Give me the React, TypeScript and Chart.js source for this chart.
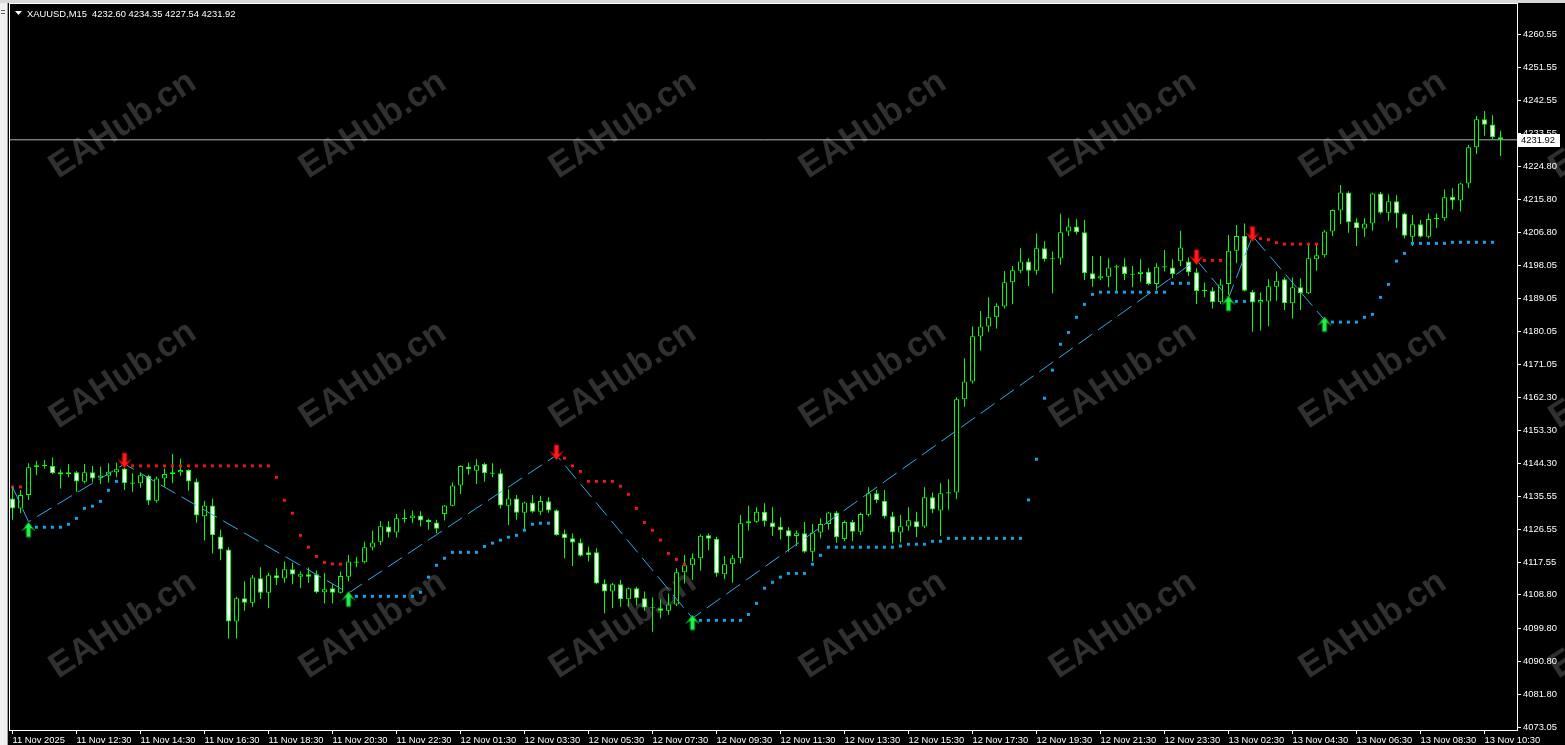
import React, { useEffect, useRef } from 'react';
import { Chart, registerables } from 'chart.js';

Chart.register(...registerables);

// ---------- data (XAUUSD M15) ----------
const symbolTitle = 'XAUUSD,M15';

const opens = [
  4134.9, 4132.2, 4135.8, 4143.4, 4143.8, 4143.7, 4142.0, 4141.5, 4142.0, 4139.4,
  4142.0, 4140.5, 4141.0, 4142.0, 4143.0, 4139.0, 4139.0, 4141.0, 4134.3, 4140.3,
  4141.5, 4142.0, 4142.6, 4139.5, 4130.1, 4133.0, 4124.6, 4121.1, 4101.6, 4107.9,
  4106.7, 4113.3, 4109.4, 4114.1, 4113.2, 4115.7, 4113.7, 4114.4, 4114.4, 4109.5,
  4110.6, 4109.4, 4113.7, 4117.6, 4117.6, 4121.6, 4123.2, 4127.3, 4125.7, 4129.4,
  4129.5, 4130.3, 4129.1, 4128.4, 4130.7, 4132.9, 4138.4, 4143.5, 4142.4, 4144.2,
  4141.8, 4141.7, 4132.9, 4134.9, 4131.0, 4133.8, 4131.3, 4134.1, 4131.7, 4125.4,
  4124.1, 4123.0, 4120.3, 4120.3, 4111.9, 4109.7, 4111.7, 4107.6, 4110.6, 4107.9,
  4105.4, 4105.2, 4104.5, 4106.2, 4114.9, 4116.8, 4118.7, 4124.9, 4124.0, 4114.4,
  4117.1, 4118.7, 4128.2, 4128.6, 4131.3, 4128.4, 4127.3, 4126.3, 4124.7, 4125.5,
  4120.5, 4125.7, 4128.0, 4131.1, 4123.9, 4128.5, 4125.9, 4130.5, 4136.3, 4134.3,
  4130.1, 4125.7, 4127.3, 4128.7, 4127.3, 4135.2, 4131.6, 4136.3, 4136.5, 4161.7,
  4166.5, 4178.7, 4181.4, 4183.9, 4186.8, 4193.4, 4196.5, 4199.0, 4196.5, 4202.6,
  4199.7, 4199.8, 4207.1, 4208.5, 4206.9, 4195.8, 4194.4, 4194.9, 4197.5, 4197.7,
  4195.6, 4195.6, 4196.2, 4192.9, 4197.4, 4197.4, 4199.1, 4199.0, 4196.1, 4191.2,
  4191.1, 4188.0, 4192.9, 4201.9, 4206.0, 4190.8, 4187.9, 4188.2, 4192.2, 4194.2,
  4187.7, 4192.0, 4190.4, 4199.6, 4200.7, 4207.1, 4212.8, 4217.7, 4209.6, 4207.9,
  4209.3, 4217.4, 4212.2, 4215.3, 4212.0, 4205.7, 4209.1, 4205.7, 4210.5, 4210.7,
  4216.5, 4215.5, 4220.1, 4229.9, 4237.5, 4236.1, 4232.60,
];

const highs = [
  4138.1, 4137.2, 4144.4, 4145.1, 4145.3, 4146.0, 4142.8, 4144.2, 4142.3, 4144.2,
  4143.7, 4143.5, 4144.4, 4144.6, 4144.6, 4141.7, 4141.9, 4141.3, 4140.8, 4143.0,
  4146.9, 4145.7, 4142.8, 4140.3, 4134.3, 4134.9, 4126.4, 4121.7, 4108.3, 4112.5,
  4114.2, 4116.3, 4114.8, 4116.0, 4117.8, 4117.5, 4115.1, 4116.2, 4115.4, 4114.8,
  4111.7, 4115.1, 4119.6, 4119.1, 4123.2, 4126.2, 4128.8, 4128.8, 4130.7, 4131.9,
  4131.6, 4131.4, 4129.4, 4129.1, 4133.1, 4139.2, 4143.9, 4144.6, 4145.5, 4144.6,
  4144.4, 4142.8, 4137.4, 4135.8, 4134.0, 4135.8, 4135.6, 4135.2, 4132.0, 4126.4,
  4125.4, 4124.0, 4121.8, 4121.4, 4113.0, 4112.0, 4112.8, 4110.8, 4111.0, 4109.7,
  4108.1, 4107.6, 4109.2, 4116.0, 4119.6, 4120.0, 4125.2, 4125.4, 4124.5, 4119.3,
  4119.6, 4130.4, 4132.9, 4132.5, 4133.6, 4132.5, 4129.8, 4127.1, 4126.2, 4128.5,
  4128.0, 4129.5, 4131.3, 4131.5, 4128.9, 4129.1, 4131.1, 4137.9, 4137.2, 4137.2,
  4131.3, 4130.4, 4132.5, 4131.3, 4137.9, 4136.5, 4139.0, 4140.1, 4162.3, 4172.8,
  4181.4, 4185.6, 4189.3, 4187.7, 4196.4, 4197.8, 4202.6, 4199.9, 4206.6, 4204.5,
  4201.7, 4211.9, 4210.7, 4210.4, 4210.2, 4200.5, 4200.5, 4199.9, 4198.1, 4199.9,
  4197.8, 4199.6, 4197.2, 4198.5, 4202.1, 4199.6, 4207.3, 4200.1, 4197.2, 4193.3,
  4192.0, 4194.2, 4206.2, 4208.9, 4209.3, 4191.3, 4190.6, 4194.2, 4196.3, 4194.7,
  4194.7, 4194.5, 4204.1, 4203.7, 4207.5, 4213.1, 4219.7, 4218.0, 4210.7, 4210.7,
  4217.6, 4217.8, 4217.2, 4216.9, 4212.2, 4211.6, 4210.2, 4212.0, 4212.0, 4218.5,
  4218.8, 4220.3, 4230.5, 4238.4, 4239.7, 4238.6, 4234.35,
];

const lows = [
  4129.1, 4130.9, 4134.5, 4141.2, 4143.0, 4141.5, 4137.6, 4140.6, 4136.7, 4139.0,
  4139.2, 4138.8, 4139.2, 4140.6, 4137.2, 4136.7, 4137.8, 4133.1, 4133.7, 4138.1,
  4139.0, 4141.0, 4137.0, 4128.3, 4123.5, 4120.0, 4118.2, 4097.0, 4097.0, 4104.5,
  4105.6, 4107.6, 4105.2, 4111.5, 4112.1, 4111.7, 4110.6, 4112.1, 4109.2, 4106.5,
  4106.5, 4109.2, 4112.4, 4116.3, 4117.3, 4120.9, 4122.3, 4124.3, 4124.3, 4128.3,
  4128.2, 4127.3, 4126.4, 4125.5, 4128.9, 4132.8, 4136.1, 4141.3, 4138.8, 4139.4,
  4140.6, 4132.2, 4127.7, 4129.1, 4126.4, 4131.0, 4130.4, 4131.0, 4124.8, 4118.7,
  4116.6, 4119.1, 4117.8, 4111.7, 4103.8, 4105.2, 4105.6, 4105.6, 4105.9, 4104.5,
  4098.8, 4102.5, 4103.4, 4105.8, 4111.9, 4112.8, 4115.4, 4120.9, 4113.7, 4113.0,
  4112.1, 4117.3, 4126.2, 4128.3, 4127.3, 4124.7, 4123.8, 4120.5, 4122.0, 4120.2,
  4117.8, 4124.1, 4126.4, 4122.9, 4123.4, 4123.4, 4125.0, 4130.0, 4133.6, 4129.5,
  4122.7, 4123.0, 4126.2, 4124.4, 4126.8, 4130.9, 4124.7, 4131.8, 4134.7, 4159.7,
  4166.0, 4174.9, 4180.0, 4180.9, 4186.3, 4187.4, 4195.8, 4192.4, 4195.4, 4199.0,
  4190.4, 4198.1, 4205.9, 4206.4, 4194.0, 4192.2, 4194.0, 4192.0, 4190.8, 4194.0,
  4192.0, 4193.5, 4192.6, 4191.3, 4196.3, 4194.5, 4197.8, 4195.1, 4187.5, 4189.3,
  4186.3, 4187.5, 4189.9, 4198.5, 4190.9, 4180.0, 4180.3, 4181.5, 4188.4, 4185.9,
  4183.6, 4185.9, 4190.2, 4196.5, 4200.1, 4205.9, 4209.1, 4206.8, 4203.2, 4205.7,
  4207.3, 4211.8, 4210.0, 4208.0, 4205.3, 4203.2, 4205.5, 4205.3, 4208.0, 4210.0,
  4213.1, 4212.5, 4218.8, 4228.1, 4233.0, 4232.1, 4227.54,
];

const closes = [
  4132.2, 4135.8, 4143.3, 4143.9, 4143.9, 4141.7, 4141.4, 4142.0, 4139.5, 4142.0,
  4140.3, 4141.1, 4142.1, 4142.8, 4139.0, 4139.1, 4141.2, 4134.3, 4140.3, 4141.5,
  4142.0, 4142.6, 4139.5, 4130.3, 4133.0, 4124.9, 4121.1, 4101.6, 4107.9, 4106.7,
  4113.5, 4109.4, 4114.1, 4113.3, 4115.7, 4114.3, 4114.4, 4113.7, 4109.5, 4110.3,
  4109.4, 4113.9, 4117.8, 4117.7, 4121.7, 4123.0, 4127.4, 4125.7, 4129.5, 4129.6,
  4130.3, 4128.9, 4128.5, 4126.7, 4133.0, 4138.4, 4143.7, 4142.8, 4143.9, 4141.7,
  4141.7, 4133.0, 4134.9, 4131.0, 4133.8, 4131.3, 4134.2, 4131.6, 4125.0, 4124.1,
  4123.0, 4119.4, 4119.6, 4111.9, 4109.7, 4111.7, 4107.6, 4110.6, 4107.9, 4105.4,
  4105.2, 4104.5, 4106.2, 4114.9, 4116.8, 4118.7, 4124.8, 4124.0, 4114.6, 4117.1,
  4118.7, 4128.2, 4128.7, 4131.3, 4128.7, 4127.1, 4126.3, 4124.6, 4125.5, 4120.5,
  4125.7, 4128.0, 4131.1, 4124.4, 4128.5, 4125.9, 4130.7, 4136.3, 4134.5, 4130.0,
  4125.7, 4127.4, 4129.0, 4127.1, 4135.2, 4131.9, 4136.3, 4136.5, 4161.7, 4166.5,
  4178.8, 4181.4, 4183.9, 4187.0, 4193.4, 4196.6, 4199.0, 4196.5, 4202.6, 4199.6,
  4199.8, 4206.9, 4208.5, 4206.9, 4195.8, 4194.2, 4195.0, 4197.4, 4197.6, 4195.6,
  4195.5, 4196.2, 4192.9, 4197.6, 4197.7, 4195.6, 4202.8, 4196.1, 4191.0, 4191.1,
  4188.0, 4192.8, 4201.9, 4205.9, 4191.1, 4187.9, 4188.6, 4192.3, 4193.8, 4187.7,
  4192.0, 4190.4, 4199.9, 4200.7, 4207.1, 4212.9, 4217.7, 4209.6, 4208.0, 4209.3,
  4217.4, 4212.2, 4215.3, 4212.0, 4206.0, 4209.1, 4205.7, 4210.5, 4210.7, 4216.4,
  4215.5, 4220.1, 4229.9, 4237.5, 4236.0, 4232.6, 4231.92,
];

// red resistance dots (one per bar, null = none)
const resistanceDots = [
  4138.0, 4138.0, null, null, null, null, null, null, null, null,
  null, null, null, null, null, 4143.7, 4143.7, 4143.7, 4143.7, 4143.7,
  4143.7, 4143.7, 4143.7, 4143.7, 4143.7, 4143.7, 4143.7, 4143.7, 4143.7, 4143.7,
  4143.7, 4143.7, 4143.7, 4140.6, 4134.4, 4130.9, 4124.9, 4121.7, 4119.2, 4117.6,
  4117.2, 4117.1, null, null, null, null, null, null, null, null,
  null, null, null, null, null, null, null, null, null, null,
  null, null, null, null, null, null, null, null, null, 4145.8,
  4143.7, 4142.2, 4139.5, 4139.5, 4139.5, 4139.5, 4138.2, 4136.0, 4132.2, 4128.4,
  4126.3, 4123.6, 4120.0, 4118.4, 4117.1, null, null, null, null, null,
  null, null, null, null, null, null, null, null, null, null,
  null, null, null, null, null, null, null, null, null, null,
  null, null, null, null, null, null, null, null, null, null,
  null, null, null, null, null, null, null, null, null, null,
  null, null, null, null, null, null, null, null, null, null,
  null, null, null, null, null, null, null, null, null, 4199.3,
  4199.3, 4199.3, null, null, null, null, 4205.2, 4204.9, 4204.1, 4203.7,
  4203.7, 4203.7, 4203.7, 4203.7, null, null, null, null, null, null,
  null, null, null, null, null, null, null, null, null, null,
  null, null, null, null, null, null, null,
];

// blue support dots (one per bar, null = none)
const supportDots = [
  null, null, null, 4127.1, 4127.1, 4127.1, 4127.1, 4127.9, 4129.5, 4132.2,
  4132.8, 4134.1, 4137.1, 4139.5, null, null, null, null, null, null,
  null, null, null, null, null, null, null, null, null, null,
  null, null, null, null, null, null, null, null, null, null,
  null, null, null, 4108.4, 4108.4, 4108.4, 4108.4, 4108.4, 4108.4, 4108.4,
  4108.4, 4109.5, 4113.6, 4116.8, 4118.7, 4120.3, 4120.3, 4120.3, 4120.3, 4121.9,
  4122.8, 4123.6, 4124.4, 4124.9, 4126.3, 4127.9, 4128.2, 4128.2, null, null,
  null, null, null, null, null, null, null, null, null, null,
  null, null, null, null, null, null, 4101.9, 4101.9, 4101.9, 4101.9,
  4101.9, 4101.9, 4103.5, 4106.5, 4110.6, 4112.2, 4113.6, 4114.6, 4114.6, 4114.6,
  4117.1, 4119.5, 4121.7, 4121.7, 4121.7, 4121.7, 4121.7, 4121.7, 4121.7, 4121.7,
  4121.7, 4122.0, 4122.5, 4122.5, 4122.5, 4123.3, 4123.3, 4124.1, 4124.1, 4124.1,
  4124.1, 4124.1, 4124.1, 4124.1, 4124.1, 4124.1, 4124.1, 4134.5, 4145.5, 4162.0,
  4169.6, 4176.6, 4179.8, 4183.9, 4187.4, 4190.1, 4190.7, 4190.7, 4190.7, 4190.7,
  4190.7, 4190.7, 4190.7, 4190.7, 4190.7, 4193.1, 4193.1, 4193.1, null, null,
  null, null, null, 4188.2, 4188.2, null, null, null, null, null,
  null, null, null, null, null, 4182.6, 4182.6, 4182.6, 4182.6, 4183.9,
  4184.7, 4189.3, 4192.8, 4199.1, 4201.2, 4203.9, 4203.9, 4203.9, 4203.9, 4203.9,
  4204.2, 4204.2, 4204.2, 4204.2, 4204.2, 4204.2, null,
];

// zigzag vertices (bar index, price)
const zigzagBars = [0, 2, 14, 42, 68, 85, 148, 152, 155, 164];
const zigzagPrices = [4138.0, 4128.6, 4144.2, 4109.3, 4146.6, 4102.5, 4199.4, 4189.1, 4205.9, 4183.2];

// signal arrows (tip price)
const buyArrowBars = [2, 42, 85, 152, 164];
const buyArrowPrices = [4128.5, 4109.7, 4103.4, 4189.7, 4184.1];
const sellArrowBars = [14, 68, 148, 155];
const sellArrowPrices = [4143.1, 4145.3, 4198.1, 4204.4];

// axis ticks
const xTickBars = [0, 8, 16, 24, 32, 40, 48, 56, 64, 72, 80, 88, 96, 104, 112, 120, 128, 136, 144, 152, 160, 168, 176, 184];
const xTickLabels = [
  '11 Nov 2025', '11 Nov 12:30', '11 Nov 14:30', '11 Nov 16:30', '11 Nov 18:30', '11 Nov 20:30',
  '11 Nov 22:30', '12 Nov 01:30', '12 Nov 03:30', '12 Nov 05:30', '12 Nov 07:30', '12 Nov 09:30',
  '12 Nov 11:30', '12 Nov 13:30', '12 Nov 15:30', '12 Nov 17:30', '12 Nov 19:30', '12 Nov 21:30',
  '12 Nov 23:30', '13 Nov 02:30', '13 Nov 04:30', '13 Nov 06:30', '13 Nov 08:30', '13 Nov 10:30',
];
const yTickLabels = [
  '4073.05', '4081.80', '4090.80', '4099.80', '4108.80', '4117.55', '4126.55', '4135.55',
  '4144.30', '4153.30', '4162.30', '4171.05', '4180.05', '4189.05', '4198.05', '4206.80',
  '4215.80', '4224.80', '4233.55', '4242.55', '4251.55', '4260.55',
];

const watermarkText = 'EAHub.cn';

// ---------- layout / style constants ----------
const W = 1565;
const H = 745;
const X_MIN = -0.3125;
const X_MAX = 188.0625;
const Y_MIN = 4072.24;
const Y_MAX = 4268.67;
const FONT = '"Liberation Sans", Arial, sans-serif';
const FONT_SIZE = 9.4;
const LIME = '#00ff00';

function makeArrow(up: boolean, fill: string, stroke: string) {
  const c = document.createElement('canvas');
  c.width = 15;
  c.height = 34;
  const g = c.getContext('2d')!;
  const cx = 7.5;
  const ty = 17;
  const s = up ? 1 : -1;
  g.beginPath();
  g.moveTo(cx, ty);
  g.lineTo(cx + 6.5, ty + s * 8.5);
  g.lineTo(cx + 2.3, ty + s * 6);
  g.lineTo(cx + 2.3, ty + s * 15);
  g.lineTo(cx - 2.3, ty + s * 15);
  g.lineTo(cx - 2.3, ty + s * 6);
  g.lineTo(cx - 6.5, ty + s * 8.5);
  g.closePath();
  g.fillStyle = fill;
  g.fill();
  g.strokeStyle = stroke;
  g.lineWidth = 1;
  g.stroke();
  return c;
}

const mtPlugin = {
  id: 'mtPlugin',
  beforeDraw(chart: any) {
    const ctx = chart.ctx as CanvasRenderingContext2D;
    ctx.save();
    ctx.fillStyle = '#000';
    ctx.fillRect(0, 0, W, H);
    // watermarks
    ctx.fillStyle = '#303030';
    ctx.font = `bold 35px ${FONT}`;
    ctx.textAlign = 'center';
    ctx.textBaseline = 'middle';
    for (let r = 0; r < 3; r++) {
      for (let c = 0; c < 7; c++) {
        ctx.save();
        ctx.translate(123 + 250 * c, 125 + 250 * r);
        ctx.rotate(-0.58);
        ctx.fillText(watermarkText, 0, 0);
        ctx.restore();
      }
    }
    // window chrome
    ctx.fillStyle = '#f0f0f0';
    ctx.fillRect(0, 0, 8, H);
    ctx.fillStyle = '#d8d8d8';
    ctx.fillRect(0, 0, W, 3);
    ctx.fillStyle = '#a0a0a0';
    ctx.fillRect(7, 3, 1, H - 3);
    ctx.fillStyle = '#606060';
    ctx.fillRect(1, 10, 4, 1);
    ctx.fillRect(1, 13, 4, 1);
    ctx.restore();
  },
  afterDraw(chart: any) {
    const ctx = chart.ctx as CanvasRenderingContext2D;
    const a = chart.chartArea;
    ctx.save();
    // plot frame
    ctx.strokeStyle = '#ffffff';
    ctx.lineWidth = 1;
    ctx.strokeRect(a.left - 0.5, a.top - 0.5, a.right - a.left + 1, a.bottom - a.top + 1);
    // current price label
    const lastClose = closes[closes.length - 1];
    const py = Math.round(chart.scales.y.getPixelForValue(lastClose));
    ctx.fillStyle = '#ffffff';
    ctx.fillRect(a.right + 1, py - 6, 42, 13);
    ctx.fillStyle = '#000000';
    ctx.font = `${FONT_SIZE}px ${FONT}`;
    ctx.textAlign = 'left';
    ctx.textBaseline = 'middle';
    ctx.fillText(lastClose.toFixed(2), a.right + 4, py + 0.5);
    // title
    const n = opens.length - 1;
    ctx.fillStyle = '#ffffff';
    ctx.beginPath();
    ctx.moveTo(15, 11);
    ctx.lineTo(22, 11);
    ctx.lineTo(18.5, 15);
    ctx.closePath();
    ctx.fill();
    const title = `${symbolTitle}  ${opens[n].toFixed(2)} ${highs[n].toFixed(2)} ${lows[n].toFixed(2)} ${closes[n].toFixed(2)}`;
    ctx.fillText(title, 27, 14);
    ctx.restore();
  },
};

export default function App() {
  const ref = useRef<HTMLCanvasElement | null>(null);

  useEffect(() => {
    const canvas = ref.current;
    if (!canvas) return;
    const upImg = makeArrow(true, '#22ee44', '#007a1c');
    const downImg = makeArrow(false, '#ff1a1a', '#a00000');

    const bodies = opens.map((o, i) => {
      const c = closes[i];
      let lo = Math.min(o, c);
      let hi = Math.max(o, c);
      if (hi - lo < 0.3) {
        const m = (hi + lo) / 2;
        lo = m - 0.15;
        hi = m + 0.15;
      }
      return { x: i, y: [lo, hi] };
    });
    const bodyFill = opens.map((o, i) => (closes[i] >= o ? '#000000' : '#ffffff'));
    const wicks = opens.map((_, i) => ({ x: i, y: [lows[i], highs[i]] }));
    const lastClose = closes[closes.length - 1];

    const chart = new Chart(canvas, {
      type: 'bar',
      data: {
        datasets: [
          {
            type: 'line',
            label: 'zigzag',
            data: zigzagBars.map((b, k) => ({ x: b, y: zigzagPrices[k] })),
            borderColor: '#33aaee',
            borderWidth: 1,
            borderDash: [17, 7],
            pointRadius: 0,
            fill: false,
            order: 0,
          },
          {
            type: 'line',
            label: 'buy',
            data: buyArrowBars.map((b, k) => ({ x: b, y: buyArrowPrices[k] })),
            showLine: false,
            pointStyle: upImg,
            pointRadius: 6,
            order: -1,
          },
          {
            type: 'line',
            label: 'sell',
            data: sellArrowBars.map((b, k) => ({ x: b, y: sellArrowPrices[k] })),
            showLine: false,
            pointStyle: downImg,
            pointRadius: 6,
            order: -1,
          },
          {
            type: 'line',
            label: 'resistance',
            data: resistanceDots.map((v, i) => ({ x: i, y: v })),
            showLine: false,
            pointStyle: 'rect',
            pointRadius: 2.1,
            pointBorderWidth: 0,
            pointBackgroundColor: '#f01414',
            borderColor: '#f01414',
            order: 0,
          },
          {
            type: 'line',
            label: 'support',
            data: supportDots.map((v, i) => ({ x: i, y: v })),
            showLine: false,
            pointStyle: 'rect',
            pointRadius: 2.1,
            pointBorderWidth: 0,
            pointBackgroundColor: '#12a2e8',
            borderColor: '#12a2e8',
            order: 0,
          },
          {
            type: 'bar',
            label: 'body',
            data: bodies as any,
            backgroundColor: bodyFill,
            borderColor: LIME,
            borderWidth: 1,
            borderSkipped: false,
            barThickness: 5,
            grouped: false,
            inflateAmount: 0,
            order: 1,
          },
          {
            type: 'bar',
            label: 'wick',
            data: wicks as any,
            backgroundColor: LIME,
            borderWidth: 0,
            barThickness: 1,
            grouped: false,
            inflateAmount: 0,
            order: 2,
          },
          {
            type: 'line',
            label: 'price',
            data: [
              { x: X_MIN, y: lastClose },
              { x: X_MAX, y: lastClose },
            ],
            borderColor: '#b4b4b4',
            borderWidth: 1,
            pointRadius: 0,
            order: 5,
          },
        ] as any,
      },
      options: {
        responsive: false,
        maintainAspectRatio: false,
        devicePixelRatio: 1,
        animation: false,
        events: [],
        layout: { autoPadding: false, padding: { left: 10, top: 4, right: 0, bottom: 0 } },
        plugins: { legend: { display: false }, tooltip: { enabled: false } },
        scales: {
          x: {
            type: 'linear',
            position: 'bottom',
            min: X_MIN,
            max: X_MAX,
            offset: false,
            grid: { display: true, drawOnChartArea: false, drawTicks: true, tickLength: 4, color: '#ffffff', offset: false },
            border: { display: false },
            ticks: {
              color: '#ffffff',
              font: { family: FONT, size: FONT_SIZE },
              align: 'start',
              autoSkip: false,
              maxRotation: 0,
              minRotation: 0,
              padding: 1,
              callback: (_v: any, idx: number) => xTickLabels[idx],
            },
            afterBuildTicks: (s: any) => {
              s.ticks = xTickBars.map((v) => ({ value: v }));
            },
            afterFit: (s: any) => {
              s.height = 15;
              s.paddingLeft = 0;
              s.paddingRight = 0;
              s.paddingTop = 0;
              s.paddingBottom = 0;
            },
          },
          y: {
            type: 'linear',
            position: 'right',
            min: Y_MIN,
            max: Y_MAX,
            grid: { display: true, drawOnChartArea: false, drawTicks: true, tickLength: 4, color: '#ffffff' },
            border: { display: false },
            ticks: {
              color: '#ffffff',
              font: { family: FONT, size: FONT_SIZE },
              autoSkip: false,
              padding: 2,
              callback: (_v: any, idx: number) => yTickLabels[idx],
            },
            afterBuildTicks: (s: any) => {
              s.ticks = yTickLabels.map((l) => ({ value: parseFloat(l) }));
            },
            afterFit: (s: any) => {
              s.width = 48;
              s.paddingLeft = 0;
              s.paddingRight = 0;
              s.paddingTop = 0;
              s.paddingBottom = 0;
            },
          },
        },
      } as any,
      plugins: [mtPlugin],
    });

    return () => {
      chart.destroy();
    };
  }, []);

  return (
    <div style={{ position: 'fixed', left: 0, top: 0, width: W, height: H, background: '#000' }}>
      <canvas ref={ref} width={W} height={H} style={{ display: 'block', width: W, height: H }} />
    </div>
  );
}
